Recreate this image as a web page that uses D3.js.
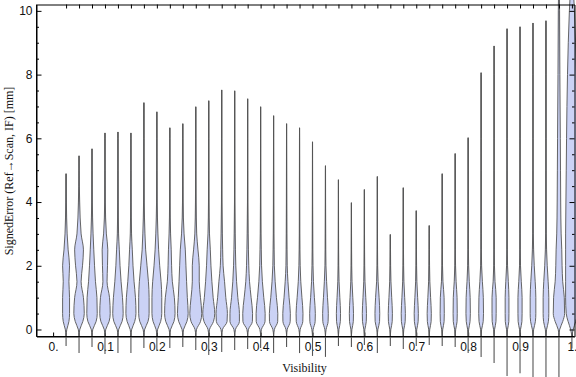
<!DOCTYPE html>
<html>
<head>
<meta charset="utf-8">
<script src="https://cdn.jsdelivr.net/npm/d3@7"></script>
<style>
    body { margin: 0; background: #fff; }
    svg { display: block; font-family: "Liberation Serif", "DejaVu Serif", serif; }
</style>
</head>
<body>
<svg id="chart" width="576" height="377"></svg>
<script>
// Violin positions (Visibility)
const positions = d3.range(1, 41).map(i => +(i * 0.025).toFixed(3));

// Extremes of each distribution [mm]
const maxVals = [4.89, 5.45, 5.67, 6.17, 6.20, 6.17, 7.12, 6.83, 6.33, 6.46,
    6.99, 7.18, 7.52, 7.49, 7.24, 6.99, 6.71, 6.46, 6.33, 5.89,
    5.14, 4.70, 3.98, 4.39, 4.80, 2.98, 4.45, 3.73, 3.26, 4.89,
    5.52, 6.02, 8.06, 8.90, 9.44, 9.50, 9.62, 9.69, 11.5, 11.5];
const minVals = [-0.52, -0.74, -0.55, -0.77, -0.74, -0.74, -0.58, -0.67, -0.58, -0.55,
    -0.64, -0.80, -0.71, -0.64, -0.61, -0.58, -0.74, -0.55, -0.74, -0.83,
    -0.86, -0.52, -0.55, -0.49, -0.74, -0.52, -0.61, -0.52, -0.49, -0.52,
    -0.55, -0.74, -0.86, -1.05, -1.46, -1.37, -1.6, -1.6, -1.6, -0.6];

// Density levels and relative half-widths
const levels = [-0.2, 0, 0.25, 0.5, 1, 1.5, 2, 2.5, 3, 4, 5, 6, 8, 10, 12];
const densities = [
    [0, .12, .45, .55, .55, .45, .55, .33, .17, .05, .02, 0, 0, 0, 0],
    [0, .12, .60, .83, .70, .33, .55, .70, .33, .10, .02, 0, 0, 0, 0],
    [0, .12, .65, .83, .78, .55, .40, .28, .17, .05, .02, 0, 0, 0, 0],
    [0, .12, .65, .83, .72, .33, .40, .45, .22, .05, .02, 0, 0, 0, 0],
    [0, .12, .65, .83, .72, .50, .33, .22, .10, .04, .02, .01, 0, 0, 0],
    [0, .12, .60, .80, .72, .50, .33, .22, .10, .04, .02, .01, 0, 0, 0],
    [0, .12, .65, .83, .83, .72, .50, .28, .17, .05, .02, .01, 0, 0, 0],
    [0, .12, .60, .78, .78, .67, .45, .28, .17, .05, .02, .01, 0, 0, 0],
    [0, .12, .65, .83, .72, .40, .28, .22, .12, .04, .02, .01, 0, 0, 0],
    [0, .12, .65, .85, .72, .60, .50, .40, .20, .05, .02, .01, 0, 0, 0],
    [0, .12, .75, .95, .75, .55, .55, .35, .15, .05, .02, .01, 0, 0, 0],
    [0, .12, .75, .95, .70, .50, .35, .25, .12, .04, .02, .01, 0, 0, 0],
    [0, .12, .85, .90, .65, .45, .22, .15, .10, .04, .02, .01, 0, 0, 0],
    [0, .12, .75, .75, .50, .30, .18, .12, .08, .03, .02, .01, 0, 0, 0],
    [0, .12, .75, .78, .55, .30, .18, .12, .08, .03, .02, .01, 0, 0, 0],
    [0, .12, .70, .72, .50, .28, .15, .10, .06, .03, .02, .01, 0, 0, 0],
    [0, .12, .65, .67, .45, .25, .12, .08, .05, .03, .02, .01, 0, 0, 0],
    [0, .10, .58, .60, .40, .22, .10, .07, .05, .03, .02, .01, 0, 0, 0],
    [0, .10, .52, .55, .38, .20, .10, .06, .04, .03, .02, .01, 0, 0, 0],
    [0, .10, .42, .45, .30, .15, .08, .05, .04, .02, .01, 0, 0, 0, 0],
    [0, .10, .42, .45, .32, .18, .08, .05, .04, .02, .01, 0, 0, 0, 0],
    [0, .08, .30, .33, .22, .10, .05, .03, .02, .01, 0, 0, 0, 0, 0],
    [0, .08, .30, .33, .22, .10, .05, .03, .02, .01, 0, 0, 0, 0, 0],
    [0, .08, .30, .33, .22, .10, .05, .03, .02, .01, 0, 0, 0, 0, 0],
    [0, .08, .35, .38, .28, .12, .05, .03, .02, .01, 0, 0, 0, 0, 0],
    [0, .08, .30, .33, .22, .10, .05, .03, .02, .01, 0, 0, 0, 0, 0],
    [0, .08, .30, .33, .22, .10, .05, .03, .02, .01, 0, 0, 0, 0, 0],
    [0, .08, .30, .33, .22, .10, .05, .03, .02, .01, 0, 0, 0, 0, 0],
    [0, .08, .30, .33, .22, .10, .05, .03, .02, .01, 0, 0, 0, 0, 0],
    [0, .08, .30, .33, .30, .12, .05, .03, .02, .01, 0, 0, 0, 0, 0],
    [0, .08, .30, .33, .30, .15, .06, .03, .02, .01, 0, 0, 0, 0, 0],
    [0, .08, .30, .35, .32, .18, .08, .04, .02, .01, 0, 0, 0, 0, 0],
    [0, .08, .33, .38, .35, .20, .08, .04, .02, .01, .01, 0, 0, 0, 0],
    [0, .08, .30, .33, .33, .15, .06, .03, .02, .01, .01, 0, 0, 0, 0],
    [0, .08, .28, .30, .30, .20, .08, .04, .02, .01, .01, 0, 0, 0, 0],
    [0, .08, .30, .33, .33, .20, .08, .04, .02, .01, .01, 0, 0, 0, 0],
    [0, .10, .38, .45, .45, .35, .20, .10, .05, .03, .02, .01, 0, 0, 0],
    [0, .10, .38, .45, .45, .35, .20, .10, .05, .03, .02, .01, 0, 0, 0],
    [0, .12, .60, .90, .85, .60, .50, .45, .35, .28, .25, .22, .15, .10, .05],
    [0, .20, .60, .90, 1.0, 1.0, 1.0, 1.0, 1.0, .95, .90, .85, .70, .40, .10]
];

// Ticks
const xTickValues = d3.range(0, 11).map(i => i / 10);
const xTickLabels = ["0.", "0.1", "0.2", "0.3", "0.4", "0.5", "0.6", "0.7", "0.8", "0.9", "1."];
const yTickValues = [0, 2, 4, 6, 8, 10];
const yMinorValues = d3.range(0, 21).map(i => i / 2).filter(v => v % 2 !== 0);

const svg = d3.select('#chart');
const frameLeft = 36.5, frameRight = 574.5, frameTop = 4.5, frameBottom = 336.5;

const x = d3.scaleLinear().domain([-0.032, 1.005]).range([frameLeft, frameRight]);
const y = d3.scaleLinear().domain([-0.22, 10.2]).range([frameBottom, frameTop]);
const w = d3.scaleLinear().domain([0, 1]).range([0, 6.3]);

const fillColor = '#cbd2f5';
const strokeColor = '#555';

// Bottom axis with labels
const xAxis = d3.axisBottom(x)
    .tickValues(xTickValues)
    .tickFormat((d, i) => xTickLabels[i])
    .tickSizeInner(-4)
    .tickSizeOuter(0)
    .tickPadding(6);
const gx = svg.append('g').attr('transform', `translate(0,${frameBottom})`).call(xAxis);
gx.selectAll('text').attr('font-size', 12).attr('fill', '#111');

// Left axis
const yAxis = d3.axisLeft(y)
    .tickValues(yTickValues)
    .tickSizeInner(-5)
    .tickSizeOuter(0)
    .tickPadding(4);
const gy = svg.append('g').attr('transform', `translate(${frameLeft},0)`).call(yAxis);
gy.selectAll('text').attr('font-size', 12).attr('fill', '#111');

svg.append('g').attr('transform', `translate(${frameLeft},0)`)
    .call(d3.axisLeft(y).tickValues(yMinorValues).tickFormat('').tickSizeInner(-2.5).tickSizeOuter(0))
    .select('.domain').remove();

// Violins
const area = d3.area()
    .curve(d3.curveMonotoneY)
    .y(d => y(d.v));

positions.forEach((p, i) => {
    const cx = x(p);
    const pts = [];
    levels.forEach((lv, j) => {
        if (lv < maxVals[i]) pts.push({ v: lv, w: densities[i][j] });
    });
    pts.push({ v: maxVals[i], w: 0 });

    svg.append('line')
        .attr('x1', cx).attr('x2', cx)
        .attr('y1', y(minVals[i])).attr('y2', y(maxVals[i]))
        .attr('stroke', strokeColor)
        .attr('stroke-width', 1.1);

    svg.append('path')
        .datum(pts)
        .attr('d', area.x0(d => cx - w(d.w)).x1(d => cx + w(d.w)))
        .attr('fill', fillColor)
        .attr('stroke', strokeColor)
        .attr('stroke-width', 0.9);
});

// Frame: right and top axes
svg.append('g').attr('transform', `translate(${frameRight},0)`)
    .call(d3.axisRight(y).tickValues(yTickValues).tickFormat('').tickSizeInner(-5).tickSizeOuter(0));
svg.append('g').attr('transform', `translate(${frameRight},0)`)
    .call(d3.axisRight(y).tickValues(yMinorValues).tickFormat('').tickSizeInner(-2.5).tickSizeOuter(0))
    .select('.domain').remove();
svg.append('g').attr('transform', `translate(0,${frameTop})`)
    .call(d3.axisTop(x).tickValues(positions).tickFormat('').tickSizeInner(-4).tickSizeOuter(0));

// redraw bottom and left lines over violins
svg.append('line').attr('x1', frameLeft).attr('x2', frameRight).attr('y1', frameBottom).attr('y2', frameBottom).attr('stroke', '#000');
svg.append('line').attr('x1', frameLeft).attr('x2', frameLeft).attr('y1', frameTop).attr('y2', frameBottom).attr('stroke', '#000');

// Axis titles
svg.append('text')
    .attr('x', (frameLeft + frameRight) / 2 - 1)
    .attr('y', 372)
    .attr('text-anchor', 'middle')
    .attr('font-size', 12)
    .attr('fill', '#111')
    .text('Visibility');

svg.append('text')
    .attr('transform', 'translate(13,171) rotate(-90)')
    .attr('text-anchor', 'middle')
    .attr('font-size', 12)
    .attr('fill', '#111')
    .text('SignedError (Ref\u2192Scan, IF) [mm]');
</script>
</body>
</html>
